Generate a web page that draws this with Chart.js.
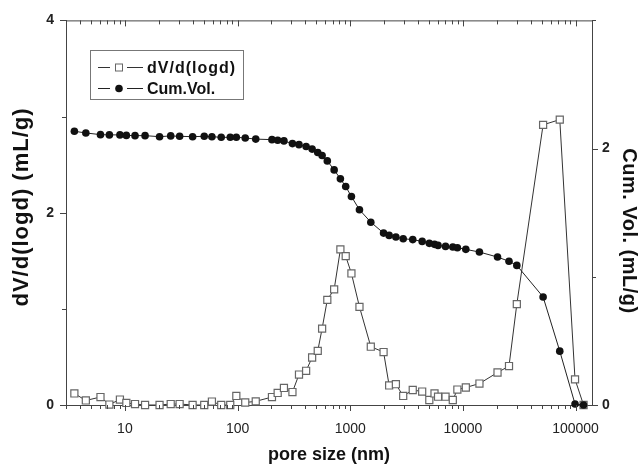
<!DOCTYPE html>
<html>
<head>
<meta charset="utf-8">
<script src="https://cdn.jsdelivr.net/npm/chart.js@4.4.1/dist/chart.umd.min.js"></script>
<style>
  html, body { margin: 0; padding: 0; background: #fff; }
  #chart { display: block; }
</style>
</head>
<body>
<canvas id="chart" width="640" height="470"></canvas>
<script>
// pore size (nm), shared by both series
const poreSize = [3.56, 4.5, 6.07, 7.28, 9.03, 10.3, 12.3, 15.1, 20.3, 25.5, 30.6, 39.9, 50.6, 59.2,
  71.6, 86.1, 97.5, 117, 145, 202, 227, 258, 307, 351, 406, 459, 515, 563, 626, 720, 818, 912,
  1025, 1208, 1523, 1977, 2216, 2543, 2953, 3589, 4352, 5035, 5600, 6018, 7017, 8138, 8936,
  10620, 14030, 20300, 25670, 30120, 51540, 72450, 98970, 117800];

// dV/d(logd) (mL/g), left axis
const dVdlogd = [0.12, 0.047, 0.083, 0.005, 0.057, 0.021, 0.01, 0, 0, 0.01, 0.01, 0, 0, 0.036,
  0, 0, 0.094, 0.026, 0.038, 0.083, 0.125, 0.177, 0.135, 0.317, 0.356, 0.494, 0.563, 0.795,
  1.094, 1.202, 1.618, 1.548, 1.368, 1.021, 0.606, 0.551, 0.203, 0.216, 0.094, 0.156, 0.14,
  0.052, 0.12, 0.086, 0.086, 0.052, 0.161, 0.182, 0.223, 0.338, 0.405, 1.049, 2.914, 2.968,
  0.267, 0];

// cumulative volume (mL/g), right axis
const cumVol = [2.135, 2.122, 2.109, 2.107, 2.107, 2.103, 2.101, 2.101, 2.093, 2.099, 2.096,
  2.093, 2.096, 2.093, 2.088, 2.088, 2.088, 2.083, 2.074, 2.07, 2.065, 2.06, 2.039, 2.031,
  2.016, 1.996, 1.969, 1.946, 1.904, 1.834, 1.764, 1.704, 1.626, 1.523, 1.426, 1.341, 1.323,
  1.31, 1.297, 1.29, 1.276, 1.261, 1.253, 1.245, 1.237, 1.232, 1.227, 1.214, 1.193, 1.154,
  1.121, 1.089, 0.843, 0.42, 0.008, 0];

const xTickValues = [10, 100, 1000, 10000, 100000];
const seriesNames = ["dV/d(logd)", "Cum.Vol."];
const axisTitles = ["pore size (nm)", "dV/d(logd) (mL/g)", "Cum. Vol. (mL/g)"];

const axisColor = "#444";
const font = '"Liberation Sans", Arial, sans-serif';
Chart.defaults.font.family = font;
Chart.defaults.color = "#222";

const toPoints = (ys) => poreSize.map((x, i) => ({ x: x, y: ys[i] }));

// tick marks: major longer, bottom/left/right outward, top inward
const tickMarks = {
  id: "tickMarks",
  afterDraw(chart) {
    const { ctx, chartArea: a, scales } = chart;
    const xs = scales.x;
    ctx.save();
    ctx.strokeStyle = axisColor;
    ctx.lineWidth = 1;
    ctx.beginPath();
    ctx.moveTo(a.left, a.top + 0.5);
    ctx.lineTo(a.right, a.top + 0.5);
    for (let e = 0; e <= 6; e++) {
      for (let k = 1; k <= 9; k++) {
        const v = k * Math.pow(10, e);
        if (v < xs.min || v > xs.max) continue;
        const px = Math.round(xs.getPixelForValue(v)) + 0.5;
        const len = k === 1 ? 6 : 4;
        ctx.moveTo(px, a.bottom);
        ctx.lineTo(px, a.bottom + len);
        ctx.moveTo(px, a.top);
        ctx.lineTo(px, a.top + len);
      }
    }
    [scales.y, scales.y1].forEach((s) => {
      const dir = s.position === "left" ? -1 : 1;
      const edge = s.position === "left" ? a.left : a.right;
      s.ticks.forEach((t) => {
        const py = Math.round(s.getPixelForValue(t.value)) + 0.5;
        const len = t.value % 2 === 0 ? 6 : 4;
        ctx.moveTo(edge, py);
        ctx.lineTo(edge + dir * len, py);
      });
    });
    ctx.stroke();
    ctx.restore();
  }
};

// vertical axis titles
const yTitles = {
  id: "yTitles",
  afterDraw(chart) {
    const ctx = chart.ctx;
    const draw = (text, x, y, rot, size, spacing) => {
      ctx.save();
      ctx.translate(x, y);
      ctx.rotate(rot);
      ctx.font = "bold " + size + "px " + font;
      ctx.letterSpacing = spacing;
      ctx.fillStyle = "#111";
      ctx.textAlign = "center";
      ctx.textBaseline = "middle";
      ctx.fillText(text, 0, 0);
      ctx.restore();
    };
    draw(axisTitles[1], 22, 207, -Math.PI / 2, 22, "1px");
    draw(axisTitles[2], 629, 231, Math.PI / 2, 20, "0.5px");
  }
};

// boxed legend inside the plot, top left
const legendBox = {
  id: "legendBox",
  afterDraw(chart) {
    const ctx = chart.ctx;
    const x0 = 90, y0 = 50, w = 153, h = 49;
    ctx.save();
    ctx.fillStyle = "#fff";
    ctx.fillRect(x0, y0, w, h);
    ctx.strokeStyle = "#777";
    ctx.lineWidth = 1;
    ctx.strokeRect(x0 + 0.5, y0 + 0.5, w, h);
    chart.data.datasets.forEach((ds, i) => {
      const cy = y0 + 17.5 + i * 21;
      const mx = x0 + 29;
      ctx.strokeStyle = ds.borderColor;
      ctx.lineWidth = 1;
      ctx.beginPath();
      ctx.moveTo(x0 + 8, cy);
      ctx.lineTo(x0 + 20, cy);
      ctx.moveTo(x0 + 37, cy);
      ctx.lineTo(x0 + 53, cy);
      ctx.stroke();
      if (ds.pointStyle === "rect") {
        ctx.fillStyle = ds.pointBackgroundColor;
        ctx.strokeStyle = ds.pointBorderColor;
        ctx.fillRect(mx - 3.5, cy - 3.5, 7, 7);
        ctx.strokeRect(mx - 3.5, cy - 3.5, 7, 7);
      } else {
        ctx.fillStyle = ds.pointBackgroundColor;
        ctx.beginPath();
        ctx.arc(mx, cy, 3.8, 0, Math.PI * 2);
        ctx.fill();
      }
      ctx.fillStyle = "#111";
      ctx.font = "bold 16px " + font;
      ctx.letterSpacing = i === 0 ? "1px" : "0px";
      ctx.textBaseline = "middle";
      ctx.fillText(ds.label, x0 + 57, cy + 1);
    });
    ctx.restore();
  }
};

new Chart(document.getElementById("chart").getContext("2d"), {
  type: "line",
  data: {
    datasets: [
      {
        label: seriesNames[0],
        data: toPoints(dVdlogd),
        yAxisID: "y",
        order: 2,
        borderColor: "#333",
        borderWidth: 1,
        pointStyle: "rect",
        pointRadius: 5,
        pointBorderColor: "#666",
        pointBackgroundColor: "#fff",
        pointBorderWidth: 1.2,
        tension: 0,
        clip: false
      },
      {
        label: seriesNames[1],
        data: toPoints(cumVol),
        yAxisID: "y1",
        order: 1,
        borderColor: "#222",
        borderWidth: 1,
        pointStyle: "circle",
        pointRadius: 3.8,
        pointBorderColor: "#111",
        pointBackgroundColor: "#111",
        pointBorderWidth: 0,
        tension: 0,
        clip: false
      }
    ]
  },
  options: {
    responsive: false,
    animation: false,
    devicePixelRatio: 1,
    layout: { padding: { top: 20, left: 0, right: 0, bottom: 0 } },
    plugins: { legend: { display: false }, tooltip: { enabled: false } },
    scales: {
      x: {
        type: "logarithmic",
        min: 3,
        max: 140000,
        afterBuildTicks: (s) => { s.ticks = xTickValues.map((v) => ({ value: v })); },
        afterFit: (s) => { s.height = 65; },
        grid: { display: false, drawTicks: false },
        border: { display: true, color: axisColor, width: 1 },
        ticks: {
          autoSkip: false,
          maxRotation: 0,
          padding: 16,
          color: "#222",
          font: { size: 14 },
          callback: (v) => String(v)
        },
        title: {
          display: true,
          text: axisTitles[0],
          color: "#111",
          font: { size: 18, weight: "bold" },
          padding: { top: 0, bottom: 4 }
        }
      },
      y: {
        position: "left",
        min: 0,
        max: 4,
        afterFit: (s) => { s.width = 66; },
        grid: { display: false, drawTicks: false },
        border: { display: true, color: axisColor, width: 1 },
        ticks: {
          stepSize: 1,
          padding: 12,
          color: "#222",
          font: { size: 14, weight: "bold" },
          callback: (v) => (v % 2 === 0 ? v : "")
        }
      },
      y1: {
        position: "right",
        min: 0,
        max: 3,
        afterFit: (s) => { s.width = 48; },
        grid: { display: false, drawTicks: false },
        border: { display: true, color: axisColor, width: 1 },
        ticks: {
          stepSize: 1,
          padding: 10,
          color: "#222",
          font: { size: 14, weight: "bold" },
          callback: (v) => (v % 2 === 0 ? v : "")
        }
      }
    }
  },
  plugins: [tickMarks, yTitles, legendBox]
});
</script>
</body>
</html>
